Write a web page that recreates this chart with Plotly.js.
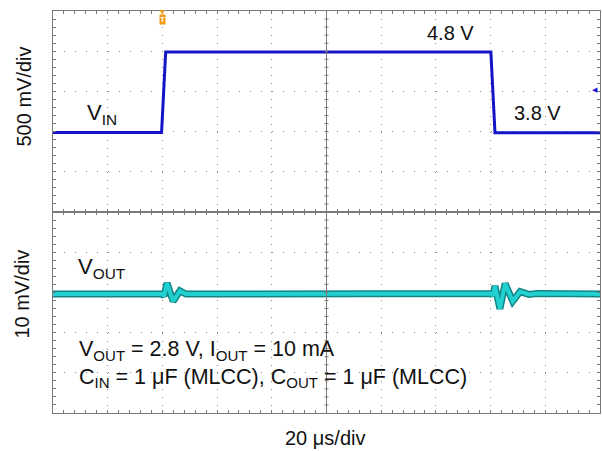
<!DOCTYPE html>
<html>
<head>
<meta charset="utf-8">
<script src="https://cdn.plot.ly/plotly-3.0.1.min.js"></script>
<style>html,body{margin:0;padding:0;background:#fff;}#chart{width:602px;height:451px;}</style>
</head>
<body>
<div id="chart"></div>
<script>
// ---- data read from the scope capture (time in µs, 20 µs/div) ----
var vinTime  = [0, 39.7, 41.2, 160.1, 161.6, 200];
var vinVolts = [3.79, 3.79, 4.79, 4.79, 3.785, 3.785];

var voutTime = [0, 39.9, 40.6, 41.7, 43.9, 46.4, 48.6, 160.3, 160.9, 161.6, 163.4, 165.3, 168.1, 170.8, 174.0, 177.0, 200];
var voutMv   = [-0.4, -0.4, -0.9, 2.3, -2.2, 0.4, -0.4, -0.3, -0.8, 1.6, -4.1, 2.2, -2.2, 0.2, -0.5, -0.3, -0.4];

var levelLabels = ['4.8 V', '3.8 V'];
var levelTimes  = [145.5, 177];
var levelValues = [4.8, 3.8];
var timeDivLabel = '20 μs/div';
var vinDivLabel  = '500 mV/div';
var voutDivLabel = '10 mV/div';
var triggerTime  = 40;
var triggerLevel = 4.32;

var FONT = 'Liberation Sans, Arial, Helvetica, sans-serif';
var EDGE = '#7a7a7a';
var GRID = '#8a8a8a';

var traces = [
  {x: vinTime, y: vinVolts, xaxis: 'x2', yaxis: 'y', mode: 'lines',
   line: {color: '#1515c6', width: 3}, hoverinfo: 'skip', showlegend: false},
  {x: voutTime, y: voutMv, xaxis: 'x', yaxis: 'y2', mode: 'lines',
   line: {color: '#118585', width: 7}, hoverinfo: 'skip', showlegend: false},
  {x: voutTime, y: voutMv, xaxis: 'x', yaxis: 'y2', mode: 'lines',
   line: {color: '#22d0d0', width: 4}, hoverinfo: 'skip', showlegend: false}
];

function xAx(extra) {
  var a = {
    range: [0, 200], tick0: 0, dtick: 20, showticklabels: false,
    showgrid: true, gridcolor: GRID, gridwidth: 1, griddash: '1px,7.04px',
    showline: true, linecolor: EDGE, linewidth: 1, mirror: 'allticks',
    ticks: 'inside', ticklen: 3, tickcolor: EDGE,
    minor: {dtick: 4, tick0: 0, ticks: 'inside', ticklen: 3, tickcolor: EDGE, showgrid: false},
    zeroline: false, fixedrange: true
  };
  for (var k in extra) a[k] = extra[k];
  return a;
}
function yAx(extra) {
  var a = {
    showticklabels: false,
    showgrid: true, gridcolor: GRID, gridwidth: 1, griddash: '1px,9.94px',
    showline: true, linecolor: EDGE, linewidth: 1, mirror: 'allticks',
    ticks: 'inside', ticklen: 3, tickcolor: EDGE,
    zeroline: false, fixedrange: true
  };
  for (var k in extra) a[k] = extra[k];
  return a;
}

var shapes = [
  {type: 'line', xref: 'x', yref: 'paper', x0: 100, x1: 100, y0: 0, y1: 1,
   line: {color: EDGE, width: 1}}
];
for (var i = 1; i < 50; i++) {
  shapes.push({type: 'line', xref: 'x', yref: 'paper', xsizemode: 'pixel', xanchor: 100,
    x0: -2, x1: 2, y0: i / 50, y1: i / 50, line: {color: EDGE, width: 1}});
}

var txt = {family: FONT, size: 20, color: '#111'};
var txtSub = {family: FONT, size: 22, color: '#111'};
var txtBlock = {family: FONT, size: 21.5, color: '#111'};
var annotations = [
  {xref: 'x2', yref: 'y', x: levelTimes[0], y: levelValues[0], yshift: 18, text: levelLabels[0],
   showarrow: false, xanchor: 'center', yanchor: 'middle', font: txt},
  {xref: 'x2', yref: 'y', x: levelTimes[1], y: levelValues[1], yshift: 19, text: levelLabels[1],
   showarrow: false, xanchor: 'center', yanchor: 'middle', font: txt},
  {xref: 'paper', yref: 'paper', x: 0.0585, y: 0.7438, text: 'V<sub>IN</sub>',
   showarrow: false, xanchor: 'left', yanchor: 'middle', font: txtSub},
  {xref: 'paper', yref: 'paper', x: 0.042, y: 0.3595, text: 'V<sub>OUT</sub>',
   showarrow: false, xanchor: 'left', yanchor: 'middle', font: txtSub},
  {xref: 'paper', yref: 'paper', x: 0.0439, y: 0.1219, align: 'left',
   text: 'V<sub>OUT</sub> = 2.8 V, I<sub>OUT</sub> = 10 mA<br>C<sub>IN</sub> = 1 μF (MLCC), C<sub>OUT</sub> = 1 μF (MLCC)',
   showarrow: false, xanchor: 'left', yanchor: 'middle', font: txtBlock},
  {xref: 'paper', yref: 'paper', x: -0.0548, y: 0.7873, text: vinDivLabel, textangle: -90,
   showarrow: false, xanchor: 'center', yanchor: 'middle', font: txt},
  {xref: 'paper', yref: 'paper', x: -0.0567, y: 0.297, text: voutDivLabel, textangle: -90,
   showarrow: false, xanchor: 'center', yanchor: 'middle', font: txt},
  {xref: 'paper', yref: 'paper', x: 0.4973, y: -0.063, text: timeDivLabel,
   showarrow: false, xanchor: 'center', yanchor: 'middle', font: txt},
  // trigger position marker
  {xref: 'x2', yref: 'paper', x: triggerTime, y: 1, yshift: -8, text: '<b>T</b>',
   showarrow: false, xanchor: 'center', yanchor: 'middle', bgcolor: '#f39c12',
   borderpad: 0, font: {family: FONT, size: 8, color: '#fff'}},
  {xref: 'x2', yref: 'paper', x: triggerTime, y: 1, yshift: 0, text: '▼',
   showarrow: false, xanchor: 'center', yanchor: 'middle',
   font: {family: 'DejaVu Sans', size: 6, color: '#f39c12'}},
  // trigger level marker
  {xref: 'paper', yref: 'y', x: 1, y: triggerLevel, text: '◀',
   showarrow: false, xanchor: 'right', yanchor: 'middle',
   font: {family: 'DejaVu Sans', size: 7, color: '#1515e0'}}
];

var layout = {
  width: 602, height: 451,
  margin: {l: 53, r: 2, t: 11, b: 38, pad: 0},
  paper_bgcolor: '#fff', plot_bgcolor: '#fff',
  showlegend: false,
  xaxis: xAx({anchor: 'y2'}),
  xaxis2: xAx({anchor: 'y', matches: 'x'}),
  yaxis: yAx({domain: [0.5, 1], anchor: 'x2', range: [2.8, 5.3], tick0: 2.8, dtick: 0.5,
              minor: {dtick: 0.1, tick0: 2.8, ticks: 'inside', ticklen: 3, tickcolor: EDGE, showgrid: false}}),
  yaxis2: yAx({domain: [0, 0.5], anchor: 'x', range: [-30, 20], tick0: 0, dtick: 10,
               minor: {dtick: 2, tick0: 0, ticks: 'inside', ticklen: 3, tickcolor: EDGE, showgrid: false}}),
  shapes: shapes,
  annotations: annotations
};

Plotly.newPlot('chart', traces, layout, {displayModeBar: false, staticPlot: true});
</script>
</body>
</html>
